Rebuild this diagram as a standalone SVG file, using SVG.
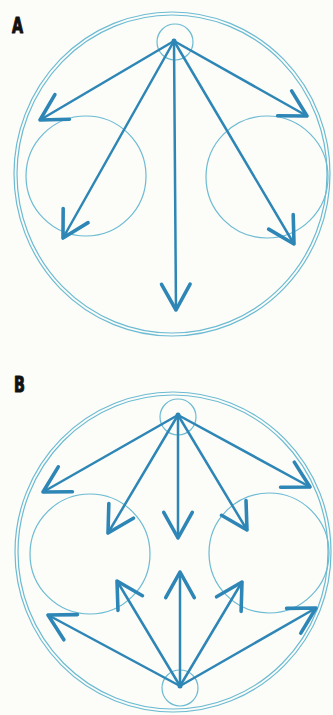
<svg xmlns="http://www.w3.org/2000/svg" width="333" height="715" viewBox="0 0 333 715">
<defs>
<style>
.ring{fill:none;stroke:#6cbbd3;stroke-width:1.2}
.arr{fill:none;stroke:#2d86b6;stroke-width:2.5;stroke-linecap:round;marker-end:url(#v)}
.lbl{font-family:"DejaVu Sans","Liberation Sans",sans-serif;font-weight:bold;font-size:22px;fill:#111;stroke:#111;stroke-width:1.2;stroke-linejoin:round}
</style>
<marker id="v" markerUnits="userSpaceOnUse" markerWidth="40" markerHeight="40" viewBox="-22 -14 26 28" refX="0" refY="0" orient="auto">
<path d="M-18,-10 L0,0 L-18,10" fill="none" stroke="#2d86b6" stroke-width="2.5" stroke-linecap="round" stroke-linejoin="round"/>
</marker>
</defs>
<rect width="333" height="715" fill="#fcfcf8"/>
<g id="label-A"><text class="lbl" x="0" y="0" transform="translate(12,33) scale(0.65,1)">A</text></g>
<g id="label-B"><text class="lbl" x="0" y="0" transform="translate(14,392) scale(0.65,1)">B</text></g>

<g id="diagram-A">
<g id="A-outer"><ellipse class="ring" cx="172" cy="174" rx="158" ry="162"/><ellipse class="ring" cx="172" cy="174" rx="155" ry="159"/></g>
<g id="A-source"><circle class="ring" cx="175" cy="42" r="18"/><circle cx="174" cy="41" r="2.5" fill="#2d86b6"/></g>
<g id="A-left"><circle class="ring" cx="86" cy="176" r="60"/></g>
<g id="A-right"><circle class="ring" cx="267" cy="177" r="61"/></g>
</g>
<g id="diagram-B">
<g id="B-outer"><ellipse class="ring" cx="173" cy="552" rx="158" ry="160"/><ellipse class="ring" cx="173" cy="552" rx="155" ry="157"/></g>
<g id="B-top"><circle class="ring" cx="178" cy="417" r="18"/><circle cx="178" cy="415" r="2.5" fill="#2d86b6"/></g>
<g id="B-bottom"><circle class="ring" cx="180" cy="688" r="18"/><circle cx="180" cy="686" r="2.5" fill="#2d86b6"/></g>
<g id="B-left"><circle class="ring" cx="90" cy="554" r="60"/></g>
<g id="B-right"><circle class="ring" cx="269" cy="553" r="60"/></g>
</g>

<g id="connectors">
<line class="arr" x1="174" y1="41" x2="40" y2="120"/>
<line class="arr" x1="174" y1="41" x2="63" y2="238"/>
<line class="arr" x1="174" y1="41" x2="176" y2="310"/>
<line class="arr" x1="174" y1="41" x2="294" y2="244"/>
<line class="arr" x1="174" y1="41" x2="307" y2="116"/>

<line class="arr" x1="178" y1="415" x2="43" y2="492"/>
<line class="arr" x1="178" y1="415" x2="108" y2="533"/>
<line class="arr" x1="178" y1="415" x2="178" y2="538"/>
<line class="arr" x1="178" y1="415" x2="247" y2="530"/>
<line class="arr" x1="178" y1="415" x2="310" y2="487"/>

<line class="arr" x1="180" y1="686" x2="48" y2="615"/>
<line class="arr" x1="180" y1="686" x2="117" y2="581"/>
<line class="arr" x1="180" y1="686" x2="180" y2="572"/>
<line class="arr" x1="180" y1="686" x2="242" y2="582"/>
<line class="arr" x1="180" y1="686" x2="316" y2="608"/>
</g>
</svg>
